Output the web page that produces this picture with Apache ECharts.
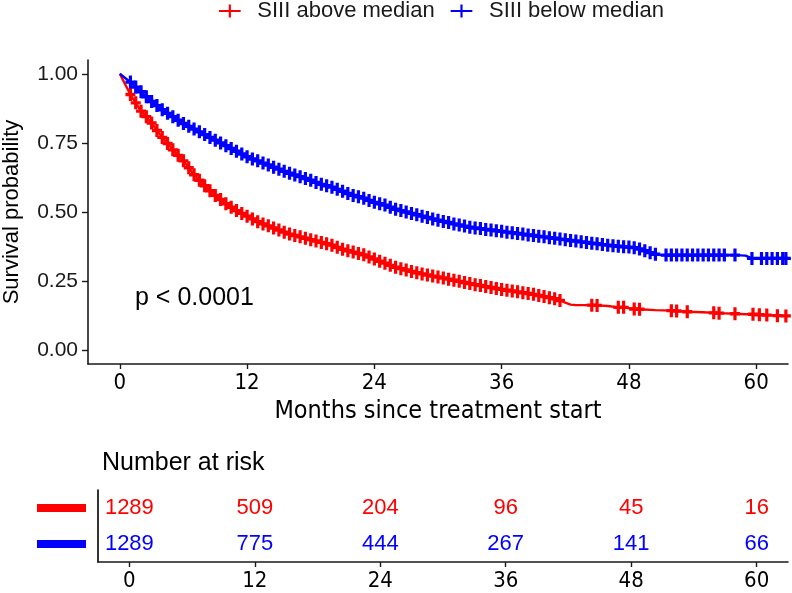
<!DOCTYPE html>
<html><head><meta charset="utf-8">
<script src="https://cdn.jsdelivr.net/npm/echarts@6/dist/echarts.min.js"></script>
<style>html,body{margin:0;padding:0;background:#fff}#c{width:792px;height:593px}</style>
</head><body><div id="c"></div><script>
const groupNames = ['SIII above median', 'SIII below median'];
const groupColors = ['#ff0000', '#0000ff'];
const xTicks = [0, 12, 24, 36, 48, 60];
const yTicks = [0, 0.25, 0.5, 0.75, 1];
const xTitle = 'Months since treatment start';
const yTitle = 'Survival probability';
const pText = 'p < 0.0001';
const riskTitle = 'Number at risk';
const riskAbove = [1289, 509, 204, 96, 45, 16];
const riskBelow = [1289, 775, 444, 267, 141, 66];

const aboveCurve = [[0,1.000],[0.5,0.962],[1,0.925],[1.5,0.895],[2,0.865],[2.5,0.845],[3,0.822],[3.5,0.795],[4,0.770],[4.5,0.748],[5,0.725],[5.5,0.705],[6,0.685],[6.5,0.660],[7,0.635],[7.5,0.615],[8,0.595],[8.5,0.577],[9,0.560],[9.5,0.545],[10,0.530],[10.5,0.517],[11,0.505],[11.5,0.495],[12,0.485],[12.5,0.475],[13,0.465],[13.5,0.457],[14,0.450],[14.5,0.442],[15,0.435],[15.5,0.427],[16,0.420],[16.5,0.415],[17,0.410],[17.5,0.405],[18,0.400],[18.5,0.395],[19,0.390],[19.5,0.385],[20,0.380],[20.5,0.372],[21,0.365],[21.5,0.360],[22,0.355],[22.5,0.350],[23,0.345],[23.5,0.337],[24,0.330],[24.5,0.322],[25,0.315],[25.5,0.307],[26,0.300],[26.5,0.295],[27,0.290],[27.5,0.285],[28,0.280],[28.5,0.276],[29,0.272],[29.5,0.268],[30,0.265],[30.5,0.261],[31,0.257],[31.5,0.253],[32,0.249],[32.5,0.245],[33,0.241],[33.5,0.237],[34,0.234],[34.5,0.230],[35,0.227],[35.5,0.223],[36,0.220],[36.5,0.217],[37,0.214],[37.5,0.211],[38,0.208],[38.5,0.205],[39,0.202],[39.5,0.198],[40,0.194],[40.5,0.190],[41,0.186],[41.5,0.180],[42,0.172],[42.5,0.165],[43,0.163],[44.5,0.163],[45,0.162],[46,0.160],[47,0.155],[47.5,0.155],[48.5,0.149],[49,0.148],[50.5,0.145],[52,0.143],[52.5,0.142],[53.5,0.139],[55,0.137],[56,0.135],[56.5,0.134],[58,0.132],[59,0.130],[59.7,0.130],[60.3,0.128],[61,0.127],[62,0.125],[62.8,0.124]];
const aboveCensorTimes = [1,1.5,2,2.5,3,3.5,4,4.5,5,5.5,6,6.5,7,7.5,8,8.5,9,9.5,10,10.5,11,11.5,12,12.5,13,13.5,14,14.5,15,15.5,16,16.5,17,17.5,18,18.5,19,19.5,20,20.5,21,21.5,22,22.5,23,23.5,24,24.5,25,25.5,26,26.5,27,27.5,28,28.5,29,29.5,30,30.5,31,31.5,32,32.5,33,33.5,34,34.5,35,35.5,36,36.5,37,37.5,38,38.5,39,39.5,40,40.5,41,41.5,44.5,45,47,47.5,48.5,49,52,52.5,53.5,56,56.5,58,59.7,60.3,61,62,62.8];

const belowCurve = [[0,1.000],[0.5,0.985],[1,0.970],[1.5,0.952],[2,0.935],[2.5,0.917],[3,0.900],[3.5,0.885],[4,0.870],[4.5,0.857],[5,0.845],[5.5,0.832],[6,0.820],[6.5,0.810],[7,0.800],[7.5,0.790],[8,0.780],[8.5,0.770],[9,0.760],[9.5,0.750],[10,0.740],[10.5,0.730],[11,0.720],[11.5,0.710],[12,0.700],[12.5,0.692],[13,0.685],[13.5,0.677],[14,0.670],[14.5,0.662],[15,0.655],[15.5,0.647],[16,0.640],[16.5,0.634],[17,0.628],[17.5,0.621],[18,0.615],[18.5,0.607],[19,0.600],[19.5,0.595],[20,0.590],[20.5,0.582],[21,0.575],[21.5,0.567],[22,0.560],[22.5,0.555],[23,0.550],[23.5,0.542],[24,0.535],[24.5,0.530],[25,0.525],[25.5,0.517],[26,0.510],[26.5,0.505],[27,0.500],[27.5,0.495],[28,0.490],[28.5,0.485],[29,0.480],[29.5,0.475],[30,0.470],[30.5,0.466],[31,0.462],[31.5,0.457],[32,0.453],[32.5,0.449],[33,0.445],[33.5,0.442],[34,0.440],[34.5,0.437],[35,0.435],[35.5,0.432],[36,0.430],[36.5,0.427],[37,0.425],[37.5,0.422],[38,0.420],[38.5,0.417],[39,0.415],[39.5,0.412],[40,0.410],[40.5,0.407],[41,0.405],[41.5,0.402],[42,0.400],[42.5,0.397],[43,0.395],[43.5,0.392],[44,0.390],[44.5,0.387],[45,0.385],[45.5,0.382],[46,0.380],[46.5,0.378],[47,0.376],[47.5,0.374],[48,0.373],[48.5,0.371],[49,0.366],[49.5,0.360],[50,0.353],[50.5,0.347],[51,0.344],[51.5,0.344],[52,0.344],[52.5,0.344],[53,0.344],[53.5,0.344],[54,0.344],[54.5,0.344],[55,0.344],[55.5,0.344],[56,0.344],[56.5,0.344],[57,0.344],[58,0.344],[59,0.342],[59.6,0.332],[60.5,0.332],[61,0.332],[61.5,0.332],[62,0.332],[62.5,0.332],[62.8,0.332]];
const belowCensorTimes = [1,1.5,2,2.5,3,3.5,4,4.5,5,5.5,6,6.5,7,7.5,8,8.5,9,9.5,10,10.5,11,11.5,12,12.5,13,13.5,14,14.5,15,15.5,16,16.5,17,17.5,18,18.5,19,19.5,20,20.5,21,21.5,22,22.5,23,23.5,24,24.5,25,25.5,26,26.5,27,27.5,28,28.5,29,29.5,30,30.5,31,31.5,32,32.5,33,33.5,34,34.5,35,35.5,36,36.5,37,37.5,38,38.5,39,39.5,40,40.5,41,41.5,42,42.5,43,43.5,44,44.5,45,45.5,46,46.5,47,47.5,48,48.5,49,49.5,50,50.5,51.5,52,52.5,53,53.5,54,54.5,55,55.5,56,56.5,57,58,59.6,60.5,61,61.5,62,62.5,62.8];

const PLUS = 'path://M3.4,0H6.6V3.7H10V6.3H6.6V10H3.4V6.3H0V3.7H3.4Z';
const LEGEND_ICON = 'path://M0,5H9V0H11V5H20V7H11V12H9V7H0Z';
const COND = "'DejaVu Sans Condensed','Liberation Sans',sans-serif";
const SANS = "'Liberation Sans',Arial,sans-serif";
const AX = '#1a1a1a';

const censor = (curve, times) => curve.filter(p => times.includes(p[0]));

const chart = echarts.init(document.getElementById('c'), null, {renderer: 'canvas'});
const curves = [aboveCurve, belowCurve];
const cens = [aboveCensorTimes, belowCensorTimes];
const series = [];
groupNames.forEach((n, i) => {
  series.push({
    name: n, type: 'line', xAxisIndex: 0, yAxisIndex: 0, data: curves[i],
    showSymbol: false, symbol: 'none', lineStyle: {color: groupColors[i], width: 2.4},
    itemStyle: {color: groupColors[i]}, animation: false, z: 3
  });
  series.push({
    name: n, type: 'scatter', xAxisIndex: 0, yAxisIndex: 0, data: censor(curves[i], cens[i]),
    symbol: PLUS, symbolSize: [10, 13], itemStyle: {color: groupColors[i], opacity: 1},
    animation: false, z: 4
  });
});
const risks = [riskAbove, riskBelow];
risks.forEach((r, i) => {
  series.push({
    type: 'scatter', xAxisIndex: 1, yAxisIndex: 1,
    data: xTicks.map((t, k) => [t, i === 0 ? 1 : 0, r[k]]),
    symbolSize: 1, itemStyle: {opacity: 0}, silent: true, animation: false,
    label: {show: true, position: 'inside', formatter: p => String(p.value[2]),
      color: groupColors[i], fontSize: 22, fontFamily: SANS, textBorderWidth: 0, opacity: 1}
  });
});

chart.setOption({
  backgroundColor: '#fff',
  animation: false,
  title: {text: riskTitle, left: 97, top: 446, textStyle: {fontSize: 25, fontWeight: 'normal', color: '#000', fontFamily: SANS}},
  legend: {
    top: 0, left: 219, padding: 0, itemWidth: 25, itemHeight: 13, itemGap: 16,
    textStyle: {fontSize: 22, color: '#1a1a1a', fontFamily: SANS, padding: [0, 0, 0, 10]},
    data: groupNames.map((n, i) => ({name: n, icon: LEGEND_ICON, itemStyle: {color: groupColors[i]}}))
  },
  grid: [
    {left: 88, top: 60, width: 700, height: 304, outerBoundsMode: 'none'},
    {left: 98, top: 490, width: 690, height: 72, outerBoundsMode: 'none'}
  ],
  xAxis: [
    {gridIndex: 0, type: 'value', min: -3, max: 63, splitLine: {show: false},
      axisLine: {show: true, onZero: false, lineStyle: {color: AX, width: 1.6}},
      axisTick: {show: true, customValues: xTicks, length: 5, lineStyle: {color: AX, width: 1.4}},
      axisLabel: {customValues: xTicks, color: '#000', fontSize: 22, fontFamily: COND, margin: 8},
      name: xTitle, nameLocation: 'middle', nameGap: 35,
      nameTextStyle: {fontSize: 25, color: '#000', fontFamily: COND}},
    {gridIndex: 1, type: 'value', min: -3, max: 63, splitLine: {show: false},
      axisLine: {show: true, onZero: false, lineStyle: {color: AX, width: 1.6}},
      axisTick: {show: true, customValues: xTicks, length: 5, lineStyle: {color: AX, width: 1.4}},
      axisLabel: {customValues: xTicks, color: '#000', fontSize: 22, fontFamily: COND, margin: 8}}
  ],
  yAxis: [
    {gridIndex: 0, type: 'value', min: -0.05, max: 1.05, splitLine: {show: false},
      axisLine: {show: true, onZero: false, lineStyle: {color: AX, width: 1.6}},
      axisTick: {show: true, customValues: yTicks, length: 6, lineStyle: {color: AX, width: 1.4}},
      axisLabel: {customValues: yTicks, formatter: v => v.toFixed(2), color: '#1a1a1a', fontSize: 21, fontFamily: SANS, margin: 10},
      name: yTitle, nameLocation: 'middle', nameGap: 65,
      nameTextStyle: {fontSize: 22, color: '#000', fontFamily: SANS}},
    {gridIndex: 1, type: 'category', data: ['below', 'above'], splitLine: {show: false},
      axisLine: {show: true, onZero: false, lineStyle: {color: '#000', width: 1.6}},
      axisTick: {show: false},
      axisLabel: {margin: 12, formatter: v => v === 'above' ? '{r| }' : '{b| }',
        rich: {r: {width: 49, height: 8, backgroundColor: groupColors[0]},
               b: {width: 49, height: 8, backgroundColor: groupColors[1]}}}}
  ],
  graphic: [{type: 'text', left: 135, top: 286, style: {text: pText, fontSize: 25, fill: '#000', fontFamily: SANS}}],
  series: series
});
</script></body></html>
